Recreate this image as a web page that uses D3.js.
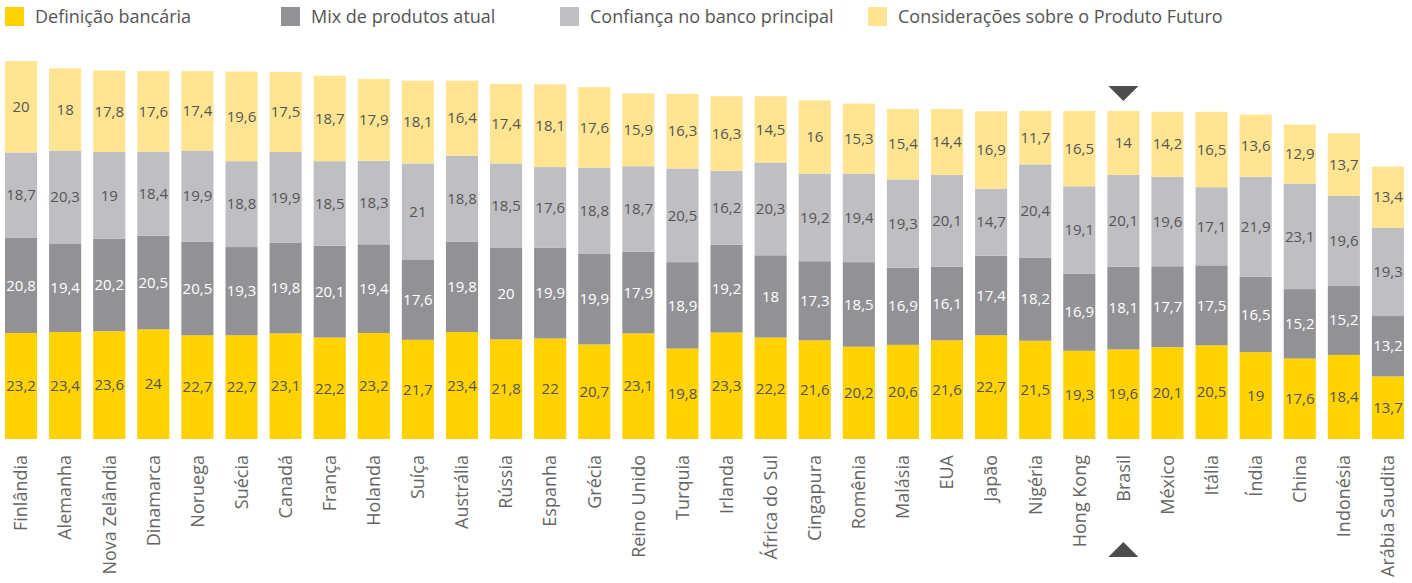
<!DOCTYPE html>
<html>
<head>
<meta charset="utf-8">
<script src="https://cdn.jsdelivr.net/npm/d3@7"></script>
<style>
  body { margin: 0; background: #fff; }
  svg { display: block; font-family: "Open Sans", "DejaVu Sans", sans-serif; }
</style>
</head>
<body>
<div id="graph"></div>
<script>
const countries = ["Finlândia","Alemanha","Nova Zelândia","Dinamarca","Noruega","Suécia","Canadá","França","Holanda","Suíça","Austrália","Rússia","Espanha","Grécia","Reino Unido","Turquia","Irlanda","África do Sul","Cingapura","Romênia","Malásia","EUA","Japão","Nigéria","Hong Kong","Brasil","México","Itália","Índia","China","Indonésia","Arábia Saudita"];
const seriesNames = ["Definição bancária","Mix de produtos atual","Confiança no banco principal","Considerações sobre o Produto Futuro"];
const definicao = [23.2,23.4,23.6,24,22.7,22.7,23.1,22.2,23.2,21.7,23.4,21.8,22,20.7,23.1,19.8,23.3,22.2,21.6,20.2,20.6,21.6,22.7,21.5,19.3,19.6,20.1,20.5,19,17.6,18.4,13.7];
const mix = [20.8,19.4,20.2,20.5,20.5,19.3,19.8,20.1,19.4,17.6,19.8,20,19.9,19.9,17.9,18.9,19.2,18,17.3,18.5,16.9,16.1,17.4,18.2,16.9,18.1,17.7,17.5,16.5,15.2,15.2,13.2];
const confianca = [18.7,20.3,19,18.4,19.9,18.8,19.9,18.5,18.3,21,18.8,18.5,17.6,18.8,18.7,20.5,16.2,20.3,19.2,19.4,19.3,20.1,14.7,20.4,19.1,20.1,19.6,17.1,21.9,23.1,19.6,19.3];
const consideracoes = [20,18,17.8,17.6,17.4,19.6,17.5,18.7,17.9,18.1,16.4,17.4,18.1,17.6,15.9,16.3,16.3,14.5,16,15.3,15.4,14.4,16.9,11.7,16.5,14,14.2,16.5,13.6,12.9,13.7,13.4];
const highlight = "Brasil";

const colors = ["#ffd200", "#929296", "#bfbfc3", "#ffe591"];
const labelColors = ["#555555", "#ffffff", "#555555", "#555555"];
const keys = ["def", "mix", "conf", "cons"];

const width = 1412, height = 583;
const baseline = 439;

const table = countries.map((c, i) => ({
  country: c, def: definicao[i], mix: mix[i], conf: confianca[i], cons: consideracoes[i]
}));

const svg = d3.select("#graph").append("svg")
  .attr("width", width).attr("height", height);

const x = d3.scaleBand()
  .domain(countries)
  .range([5, 1404])
  .paddingInner(0.272)
  .paddingOuter(0);

const y = d3.scaleLinear()
  .domain([0, 85])
  .range([baseline, baseline - 85 * 4.57]);

const layers = d3.stack().keys(keys)(table);

// bars
svg.append("g")
  .selectAll("g")
  .data(layers)
  .join("g")
    .attr("fill", (d, i) => colors[i])
  .selectAll("rect")
  .data(d => d)
  .join("rect")
    .attr("x", d => x(d.data.country))
    .attr("width", x.bandwidth())
    .attr("y", d => y(d[1]))
    .attr("height", d => y(d[0]) - y(d[1]));

// value labels
svg.append("g")
  .selectAll("g")
  .data(layers)
  .join("g")
    .attr("fill", (d, i) => labelColors[i])
    .style("font-size", "15px")
    .attr("text-anchor", "middle")
  .selectAll("text")
  .data(d => d.map(v => ({v, key: d.key})))
  .join("text")
    .attr("x", d => x(d.v.data.country) + x.bandwidth() / 2)
    .attr("y", d => (y(d.v[0]) + y(d.v[1])) / 2)
    .attr("dy", "0.35em")
    .text(d => String(d.v.data[d.key]).replace(".", ","));

// category labels
svg.append("g")
  .selectAll("text")
  .data(countries)
  .join("text")
    .attr("transform", d => "translate(" + (x(d) + x.bandwidth() / 2) + ",455) rotate(-90)")
    .attr("text-anchor", "end")
    .attr("dy", "0.35em")
    .attr("fill", "#666666")
    .style("font-size", "18px")
    .text(d => d);

// highlight markers
const hx = x(highlight) + x.bandwidth() / 2;
const tri = 15;
svg.append("path")
  .attr("d", `M${hx - tri},86 L${hx + tri},86 L${hx},101 Z`)
  .attr("fill", "#4d4d4f");
svg.append("path")
  .attr("d", `M${hx - tri},557 L${hx + tri},557 L${hx},542 Z`)
  .attr("fill", "#4d4d4f");

// legend
const legendX = [5, 281, 560, 868];
const legend = svg.append("g")
  .selectAll("g")
  .data(seriesNames)
  .join("g")
    .attr("transform", (d, i) => "translate(" + legendX[i] + ",7)");
legend.append("rect")
  .attr("width", 19).attr("height", 19)
  .attr("fill", (d, i) => colors[i]);
legend.append("text")
  .attr("x", 30).attr("y", 10)
  .attr("dy", "0.35em")
  .attr("fill", "#555555")
  .style("font-size", "18px")
  .text(d => d);
</script>
</body>
</html>
